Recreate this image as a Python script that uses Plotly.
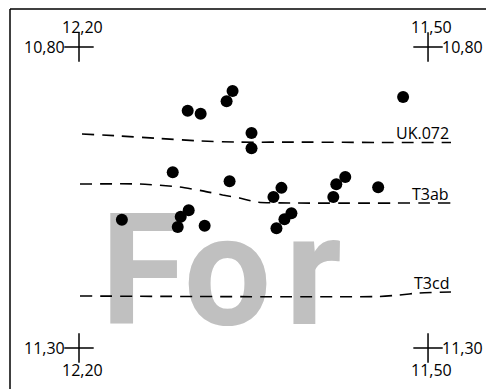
import plotly.graph_objects as go

# sample points (longitude left->right decreasing, latitude top->bottom increasing)
pt_lon = [11.892, 11.904, 11.982, 11.956, 11.854, 11.854, 12.012, 11.898,
          12.114, 11.980, 11.996, 12.002, 11.948, 11.550, 11.794, 11.810,
          11.666, 11.684, 11.690, 11.600, 11.774, 11.788, 11.804]
pt_lat = [10.873, 10.890, 10.906, 10.911, 10.943, 10.968, 11.008, 11.023,
          11.087, 11.071, 11.082, 11.099, 11.097, 10.883, 11.034, 11.049,
          11.016, 11.028, 11.049, 11.033, 11.076, 11.086, 11.101]

# boundary lines
uk_lon = [12.194, 12.118, 12.038, 11.958, 11.878, 11.758, 11.584, 11.454]
uk_lat = [10.9445, 10.9478, 10.952, 10.956, 10.958, 10.958, 10.9586, 10.9586]
t3ab_lon = [12.198, 12.078, 11.998, 11.952, 11.912, 11.878, 11.844, 11.778, 11.454]
t3ab_lat = [11.0276, 11.0276, 11.0326, 11.039, 11.0458, 11.0508, 11.0575, 11.0591, 11.0591]
t3cd_lon = [12.198, 11.598, 11.558, 11.518, 11.454]
t3cd_lat = [11.2136, 11.2144, 11.212, 11.2086, 11.207]

line_names = ["UK.072", "T3ab", "T3cd"]

corner_lon = [12.20, 11.50, 12.20, 11.50]
corner_lat = [10.80, 10.80, 11.30, 11.30]

FONT = "Open Sans"


def fmt(v):
    return ("%.2f" % v).replace(".", ",")


fig = go.Figure()

# watermark first so every mark sits on top of it
gap = '<span style="font-size:55px"> </span>'
fig.add_trace(go.Scatter(x=[11.915], y=[11.1953], mode="text",
                         text=["<b>Fo" + gap + "r</b>"],
                         textposition="middle center",
                         textfont=dict(family="Roboto", size=155, color="#c0c0c0"),
                         hoverinfo="skip"))

dash = "12px,8px"
for lon, lat in [(uk_lon, uk_lat), (t3ab_lon, t3ab_lat), (t3cd_lon, t3cd_lat)]:
    fig.add_trace(go.Scatter(x=lon, y=lat, mode="lines",
                             line=dict(color="black", width=1.6, dash=dash,
                                       shape="spline", smoothing=0.6),
                             hoverinfo="skip"))

fig.add_trace(go.Scatter(x=pt_lon, y=pt_lat, mode="markers",
                         marker=dict(color="black", size=12)))

fig.add_trace(go.Scatter(x=corner_lon, y=corner_lat, mode="markers",
                         marker=dict(symbol="cross-thin", size=21,
                                     line=dict(color="black", width=1.5))))

ann = []
# line labels sit on the end of each line
for name, lon, lat in [(line_names[0], uk_lon, uk_lat),
                       (line_names[1], t3ab_lon, t3ab_lat),
                       (line_names[2], t3cd_lon, t3cd_lat)]:
    ann.append(dict(x=lon[-1], y=lat[-1], text=name, showarrow=False,
                    xanchor="right", yanchor="middle", yshift=9,
                    font=dict(family=FONT, size=16, color="black")))

for lon, lat in zip(corner_lon, corner_lat):
    top = lat == min(corner_lat)
    left = lon == max(corner_lon)
    ann.append(dict(x=lon, y=lat, text=fmt(lon), showarrow=False,
                    xshift=3, yshift=20 if top else -22,
                    font=dict(family=FONT, size=16, color="black")))
    ann.append(dict(x=lon, y=lat, text=fmt(lat), showarrow=False,
                    xanchor="right" if left else "left",
                    xshift=-12 if left else 12,
                    font=dict(family=FONT, size=16, color="black")))

fig.update_layout(
    width=486, height=381,
    margin=dict(l=0, r=0, t=0, b=0),
    paper_bgcolor="white", plot_bgcolor="white",
    showlegend=False,
    annotations=ann,
    xaxis=dict(range=[12.3424, 11.3677], visible=False, fixedrange=True),
    yaxis=dict(range=[11.3681, 10.7352], visible=False, fixedrange=True),
    shapes=[
        dict(type="line", xref="paper", yref="paper", x0=2 / 486, x1=1,
             y0=1 - 1 / 381, y1=1 - 1 / 381, line=dict(color="black", width=1.5)),
        dict(type="line", xref="paper", yref="paper", x0=2 / 486, x1=2 / 486,
             y0=0, y1=1 - 1 / 381, line=dict(color="black", width=1.5)),
    ],
)

fig.write_html("out.html")
